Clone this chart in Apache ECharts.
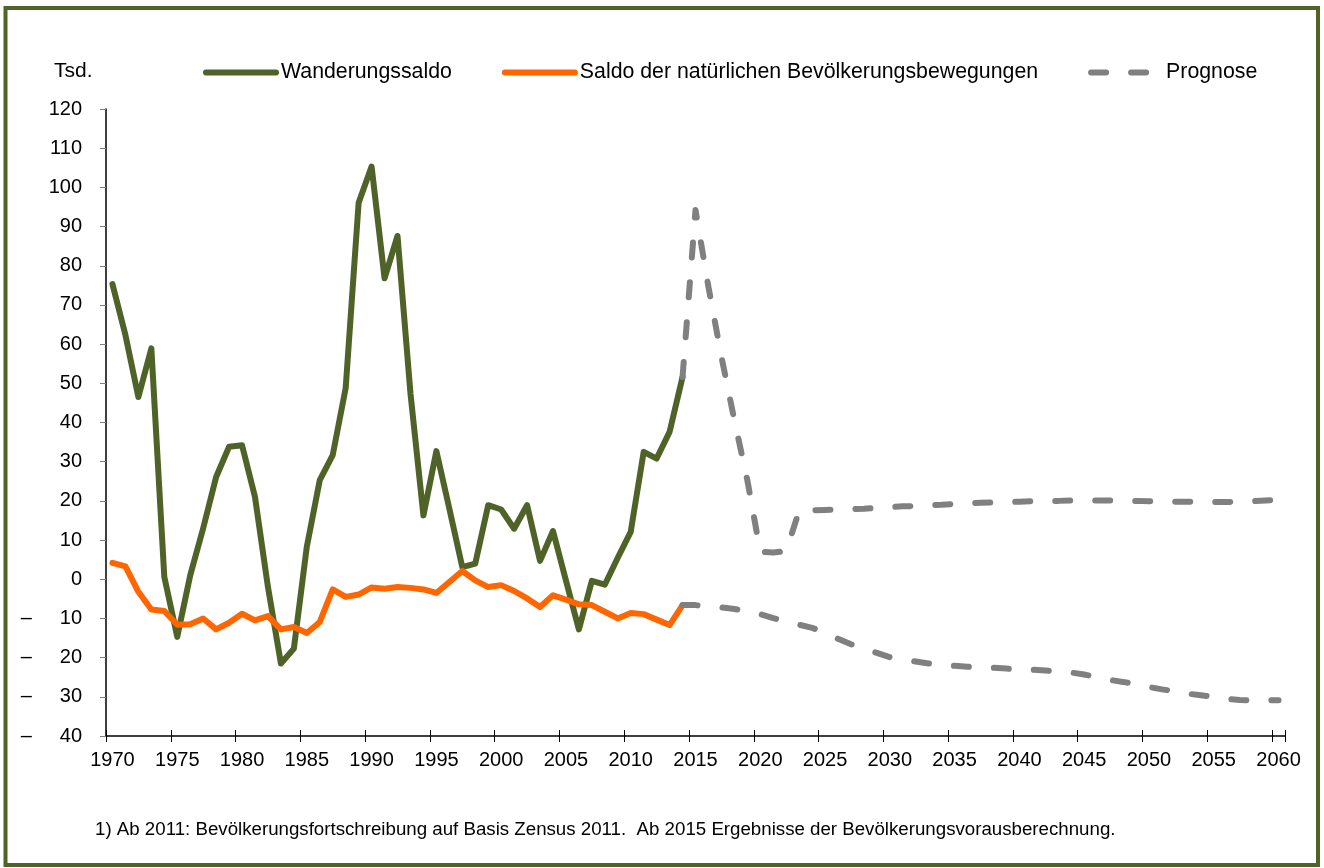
<!DOCTYPE html>
<html>
<head>
<meta charset="utf-8">
<script src="https://cdn.jsdelivr.net/npm/echarts@6/dist/echarts.min.js"></script>
<style>
  html, body { margin: 0; padding: 0; background: #fff; }
  #chart { width: 1324px; height: 868px; }
</style>
</head>
<body>
<div id="chart"></div>
<script>
// Jahre 1970 - 2060 (Kategorien der x-Achse)
const years = []
for (let y = 1970; y <= 2060; y++) years.push(String(y))

// Wanderungssaldo 1970 - 2014 (Tsd.)
const wanderung = [
  75.3, 62.3, 46.5, 58.9, 0.6, -14.7, 1.0, 13.0, 26.1, 33.8,
  34.2, 21.0, -2.0, -21.5, -17.7, 8.3, 25.3, 31.7, 48.8, 96.1,
  105.3, 76.8, 87.6, 47.4, 16.3, 32.7, 18.0, 3.1, 4.0, 18.9,
  17.8, 12.9, 18.9, 4.7, 12.3, -0.3, -12.8, -0.4, -1.4, 5.5,
  12.1, 32.5, 30.8, 37.6, 51.6
]

// Saldo der natürlichen Bevölkerungsbewegungen 1970 - 2014 (Tsd.)
const natuerlich = [
  4.2, 3.3, -3.2, -7.7, -8.1, -11.6, -11.5, -10.0, -12.8, -11.1,
  -8.8, -10.5, -9.4, -12.8, -12.2, -13.7, -10.9, -2.6, -4.5, -3.9,
  -2.1, -2.4, -2.0, -2.2, -2.6, -3.5, -0.7, 2.1, -0.3, -2.0,
  -1.5, -3.0, -4.9, -7.1, -4.1, -5.2, -6.4, -6.6, -8.3, -10.0,
  -8.6, -8.9, -10.3, -11.7, -6.6
]

// Prognose Wanderungssaldo 2014 - 2060
const progWanderung = [
  51.6, 94.2, 74.6, 56.8, 40.6, 25.3, 7.0, 6.8, 7.2, 17.5,
  17.6, 17.7, 17.8, 17.9, 18.0, 18.2, 18.4, 18.6, 18.7, 18.9,
  19.0, 19.2, 19.4, 19.5, 19.6, 19.7, 19.8, 19.9, 20.0, 20.0,
  20.1, 20.1, 20.1, 20.1, 20.0, 20.0, 19.9, 19.9, 19.8, 19.8,
  19.7, 19.7, 19.7, 19.8, 19.9, 20.1, 20.3
]

// Prognose natürlicher Saldo 2014 - 2060
const progNatuerlich = [
  -6.6, -6.6, -7.0, -7.2, -7.6, -8.1, -8.9, -9.9, -10.8, -11.6,
  -12.4, -13.6, -15.2, -16.6, -17.8, -18.8, -19.9, -20.6, -21.0, -21.5,
  -21.9, -22.1, -22.3, -22.5, -22.6, -22.8, -23.0, -23.1, -23.3, -23.5,
  -23.8, -24.3, -25.0, -25.7, -26.2, -26.8, -27.5, -28.1, -28.6, -29.2,
  -29.6, -30.0, -30.5, -30.8, -30.9, -30.9, -30.9
]

const FONT = 'Liberation Sans, Arial, sans-serif'
const GREEN = '#4F6228'
const ORANGE = '#FF6600'
const GREY = '#808080'

// Prognose beginnt 2014 -> vorne mit null auffüllen
const progStart = years.indexOf('2014')
const pad = new Array(progStart).fill(null)

const chart = echarts.init(document.getElementById('chart'))

const option = {
  animation: false,
  backgroundColor: '#fff',
  textStyle: { fontFamily: FONT },
  title: [
    {
      text: 'Tsd.',
      left: 54, top: 61, padding: 0,
      textStyle: { fontFamily: FONT, fontSize: 21, fontWeight: 'normal', color: '#000' }
    },
    {
      text: '1) Ab 2011: Bevölkerungsfortschreibung auf Basis Zensus 2011.  Ab 2015 Ergebnisse der Bevölkerungsvorausberechnung.',
      left: 95, top: 820, padding: 0,
      textStyle: { fontFamily: FONT, fontSize: 18.7, fontWeight: 'normal', color: '#000' }
    }
  ],
  graphic: [
    {
      type: 'rect',
      shape: { x: 5.5, y: 8, width: 1312.5, height: 857 },
      style: { fill: null, stroke: GREEN, lineWidth: 4 },
      silent: true
    }
  ],
  legend: {
    left: 203, top: 62, padding: 0,
    itemWidth: 70, itemHeight: 14, itemGap: 50,
    textStyle: { fontFamily: FONT, fontSize: 21.3, color: '#000' },
    itemStyle: { color: 'transparent', borderWidth: 0, opacity: 0 },
    lineStyle: { width: 6, cap: 'round' },
    data: ['Wanderungssaldo', 'Saldo der natürlichen Bevölkerungsbewegungen', 'Prognose']
  },
  grid: { left: 106, right: 39, top: 109, bottom: 132, containLabel: false },
  xAxis: [
    {
      type: 'category',
      data: years,
      boundaryGap: true,
      axisLine: { onZero: false, lineStyle: { color: '#000', width: 1.5 } },
      axisTick: { show: true, interval: 4, length: 6, lineStyle: { color: '#000', width: 1 } },
      axisLabel: { interval: 4, fontFamily: FONT, fontSize: 20, color: '#000', margin: 14 },
      splitLine: { show: false }
    },
    {
      // nur für die nach innen zeigenden Teilstriche
      type: 'category',
      data: years,
      position: 'bottom',
      boundaryGap: true,
      axisLine: { show: false, onZero: false },
      axisTick: { show: true, inside: true, interval: 4, length: 6, lineStyle: { color: '#000', width: 1 } },
      axisLabel: { show: false },
      splitLine: { show: false }
    }
  ],
  yAxis: {
    type: 'value',
    min: -40, max: 120, interval: 10,
    axisLine: { show: true, lineStyle: { color: '#000', width: 1.5 } },
    axisTick: { show: true, length: 6, lineStyle: { color: GREY } },
    axisLabel: {
      fontFamily: FONT, fontSize: 20, color: '#000', margin: 24,
      formatter: v => (v < 0 ? '–     ' + Math.abs(v) : String(v))
    },
    splitLine: { show: false }
  },
  series: [
    {
      name: 'Wanderungssaldo',
      type: 'line',
      data: wanderung,
      symbol: 'none',
      lineStyle: { color: GREEN, width: 6, cap: 'round', join: 'round' },
      itemStyle: { color: GREEN }
    },
    {
      name: 'Saldo der natürlichen Bevölkerungsbewegungen',
      type: 'line',
      data: natuerlich,
      symbol: 'none',
      lineStyle: { color: ORANGE, width: 6, cap: 'round', join: 'round' },
      itemStyle: { color: ORANGE }
    },
    {
      name: 'Prognose',
      type: 'line',
      data: pad.concat(progWanderung),
      symbol: 'none',
      lineStyle: { color: GREY, width: 6, type: [15, 25], cap: 'round', join: 'round' },
      itemStyle: { color: GREY }
    },
    {
      name: 'Prognose',
      type: 'line',
      data: pad.concat(progNatuerlich),
      symbol: 'none',
      lineStyle: { color: GREY, width: 6, type: [15, 25], cap: 'round', join: 'round' },
      itemStyle: { color: GREY }
    }
  ]
}

chart.setOption(option)
</script>
</body>
</html>
